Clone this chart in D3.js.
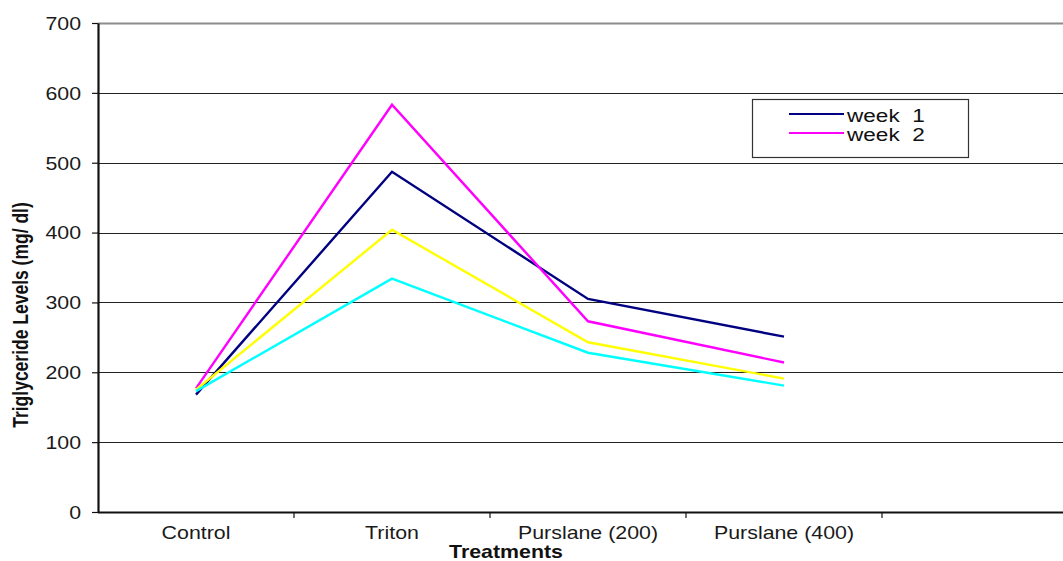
<!DOCTYPE html>
<html>
<head>
<meta charset="utf-8">
<script src="https://cdn.jsdelivr.net/npm/d3@7"></script>
<style>
  html, body { margin: 0; padding: 0; background: #fff; }
  svg { display: block; font-family: "Liberation Sans", Arial, sans-serif; }
  text { white-space: pre; }
</style>
</head>
<body>
<svg id="chart" width="1063" height="561"></svg>
<script>
// Treatment groups along the x axis (last band is left empty)
const categories = ["Control", "Triton", "Purslane (200)", "Purslane (400)", ""];
const treatments = ["Control", "Triton", "Purslane (200)", "Purslane (400)"];

// Triglyceride levels (mg/dl) per treatment
const week1 = [168, 487, 305, 251];
const week2 = [177, 583, 273, 214];
const week3 = [175, 404, 243, 191];
const week4 = [173, 334, 228, 181];

const seriesNames = ["week  1", "week  2", "week  3", "week  4"];
const seriesColors = ["#000080", "#ff00ff", "#ffff00", "#00ffff"];
const legendNames = ["week  1", "week  2"];

const yTicks = [0, 100, 200, 300, 400, 500, 600, 700];

const series = [week1, week2, week3, week4].map((values, i) => ({
  name: seriesNames[i],
  color: seriesColors[i],
  points: treatments.map((t, j) => ({ cat: t, value: values[j] }))
}));

const svg = d3.select("#chart");
const plotLeft = 98, plotRight = 1078, plotTop = 23, plotBottom = 512;
const sx = 1.22; // horizontal glyph stretch

const x = d3.scaleBand().domain(categories).range([plotLeft, plotRight]).padding(0);
const y = d3.scaleLinear().domain([0, 700]).range([plotBottom, plotTop]);

// Horizontal gridlines
svg.append("g")
  .selectAll("line")
  .data(yTicks.filter(v => v > 0))
  .join("line")
  .attr("x1", plotLeft).attr("x2", plotRight)
  .attr("y1", d => Math.round(y(d)) + 0.5).attr("y2", d => Math.round(y(d)) + 0.5)
  .attr("stroke", d => d === 700 ? "#8c8c8c" : "#222")
  .attr("stroke-width", d => d === 700 ? 2 : 1.2);

// Y axis
const yAxis = svg.append("g")
  .attr("transform", `translate(${plotLeft},0)`)
  .call(d3.axisLeft(y).tickValues(yTicks).tickSize(6).tickSizeOuter(0).tickFormat(d3.format("d")));
yAxis.select(".domain").attr("stroke", "#111").attr("stroke-width", 2.2);
yAxis.selectAll(".tick line").attr("stroke", "#111").attr("stroke-width", 1.2);
yAxis.selectAll(".tick text")
  .attr("x", -17 / sx)
  .attr("dy", "0.36em")
  .attr("transform", `scale(${sx},1)`)
  .attr("font-size", 17.5)
  .attr("font-family", "Liberation Sans, Arial, sans-serif")
  .attr("fill", "#1a1a1a");

// X axis with ticks at band boundaries
const bw = x.bandwidth();
const xAxis = svg.append("g").attr("transform", `translate(0,${plotBottom})`);
xAxis.append("line")
  .attr("x1", plotLeft).attr("x2", plotRight).attr("y1", 0.5).attr("y2", 0.5)
  .attr("stroke", "#111").attr("stroke-width", 2.2);
xAxis.selectAll("line.tk")
  .data(categories)
  .join("line").attr("class", "tk")
  .attr("x1", d => x(d) + bw).attr("x2", d => x(d) + bw)
  .attr("y1", 0).attr("y2", 6)
  .attr("stroke", "#111").attr("stroke-width", 1.2);
xAxis.selectAll("g.lbl")
  .data(categories)
  .join("g").attr("class", "lbl")
  .attr("transform", d => `translate(${x(d) + bw / 2},27) scale(${sx},1)`)
  .append("text")
  .attr("text-anchor", "middle")
  .attr("font-size", 17.5)
  .attr("fill", "#1a1a1a")
  .text(d => d);

// Axis titles
svg.append("g")
  .attr("transform", `translate(506,558) scale(${sx},1)`)
  .append("text")
  .attr("text-anchor", "middle")
  .attr("font-size", 17.5)
  .attr("font-weight", "bold")
  .attr("fill", "#111")
  .text("Treatments");

svg.append("g")
  .attr("transform", `translate(28,315) scale(${sx},1) rotate(-90)`)
  .append("text")
  .attr("text-anchor", "middle")
  .attr("font-size", 17.5)
  .attr("font-weight", "bold")
  .attr("fill", "#111")
  .text("Triglyceride Levels (mg/ dl)");

// Series lines
const line = d3.line()
  .x(d => x(d.cat) + bw / 2)
  .y(d => y(d.value));

svg.append("g")
  .selectAll("path")
  .data(series)
  .join("path")
  .attr("fill", "none")
  .attr("stroke", d => d.color)
  .attr("stroke-width", 2.4)
  .attr("stroke-linejoin", "miter")
  .attr("d", d => line(d.points));

// Legend
const legend = svg.append("g").attr("transform", "translate(752,99)");
legend.append("rect")
  .attr("x", 0.5).attr("y", 0.5)
  .attr("width", 216).attr("height", 58)
  .attr("fill", "#fff")
  .attr("stroke", "#333").attr("stroke-width", 1.2);
const legendItems = legend.selectAll("g.item")
  .data(series.filter(s => legendNames.includes(s.name)))
  .join("g").attr("class", "item")
  .attr("transform", (d, i) => `translate(0,${15 + i * 19})`);
legendItems.append("line")
  .attr("x1", 37).attr("x2", 92).attr("y1", 0).attr("y2", 0)
  .attr("stroke", d => d.color).attr("stroke-width", 2.2);
legendItems.append("g")
  .attr("transform", `translate(95,8) scale(${sx},1)`)
  .append("text")
  .attr("font-size", 18.5)
  .attr("fill", "#111")
  .text(d => d.name);
</script>
</body>
</html>
